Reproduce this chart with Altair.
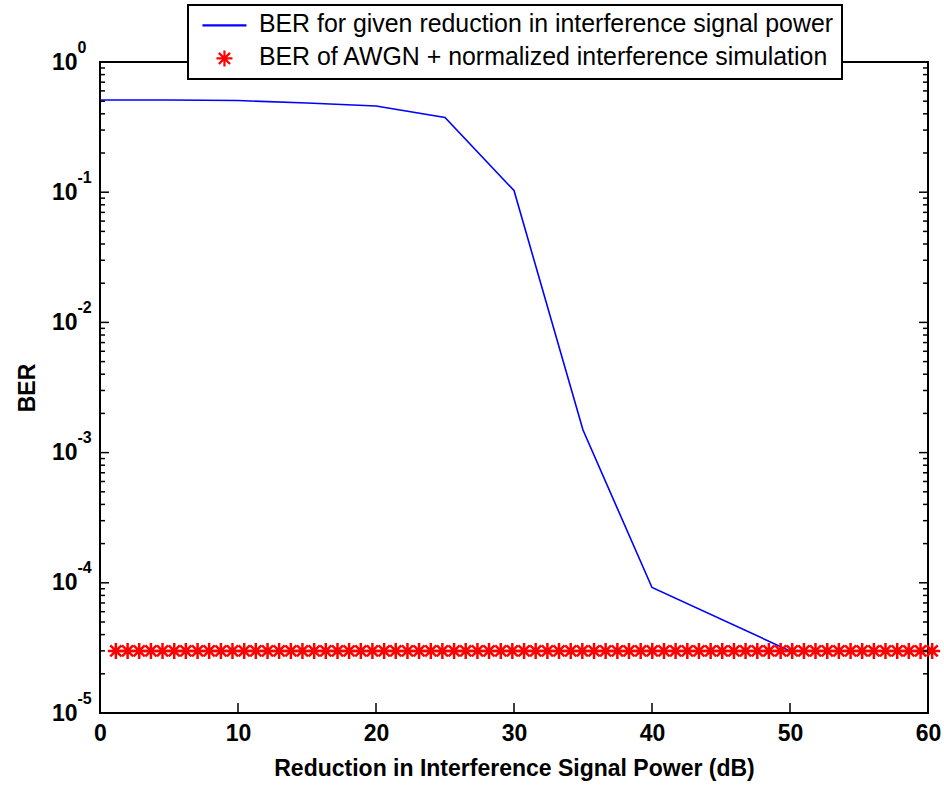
import altair as alt
import pandas as pd

# ---------------- data ----------------
series_names = [
    "BER for given reduction in interference signal power",
    "BER of AWGN + normalized interference simulation",
]
reduction_db = [0, 5, 10, 15, 20, 25, 30, 35, 40, 50, 55, 60]
ber_reduction = [0.51, 0.51, 0.506, 0.484, 0.459, 0.375, 0.103, 1.49e-3, 9.2e-5, 3.0e-5, 3.0e-5, 3.0e-5]

sim_db = [1.15, 2.00, 2.84, 3.69, 4.53, 5.38, 6.22, 7.07, 7.91, 8.76,
          9.60, 10.45, 11.29, 12.14, 12.98, 13.83, 14.67, 15.52, 16.36, 17.21,
          18.05, 18.90, 19.74, 20.59, 21.43, 22.28, 23.12, 23.97, 24.81, 25.66,
          26.50, 27.35, 28.19, 29.04, 29.88, 30.73, 31.57, 32.42, 33.26, 34.11,
          34.95, 35.80, 36.64, 37.49, 38.33, 39.18, 40.02, 40.87, 41.71, 42.56,
          43.40, 44.25, 45.09, 45.94, 46.78, 47.63, 48.47, 49.32, 50.16, 51.01,
          51.85, 52.70, 53.54, 54.39, 55.23, 56.08, 56.92, 57.77, 58.61, 59.46,
          60.30]
ber_sim = [3.0e-5] * len(sim_db)

x_ticks = [0, 10, 20, 30, 40, 50, 60]
y_major = [1e-5, 1e-4, 1e-3, 1e-2, 1e-1, 1]
y_minor = [k * d for d in [1e-5, 1e-4, 1e-3, 1e-2, 1e-1] for k in range(2, 10)]

# ---------------- sizes / styling ----------------
W, H = 828, 651
FONT = "Liberation Sans"
LINE_PATH = "M-2.75,0L2.75,0"
STAR_PATH = "M-1,0L1,0M0,-1L0,1M-0.7,-0.7L0.7,0.7M-0.7,0.7L0.7,-0.7"

X0, X1 = 0, 60
DECADES = 5
def dx(px):           # pixel length -> dB along x
    return (X1 - X0) * px / W
def fy(px):           # pixel length -> factor along log y
    return 10 ** (DECADES * px / H)

df_line = pd.DataFrame({"db": reduction_db, "ber": ber_reduction, "series": series_names[0]})
df_sim = pd.DataFrame({"db": sim_db, "ber": ber_sim, "series": series_names[1]})

# inward tick segments (MATLAB box style), two end points per tick
segs = []
for v in x_ticks:
    segs.append(((v, 1e-5), (v, 1e-5 * fy(10))))
    segs.append(((v, 1.0), (v, 1.0 / fy(10))))
for v in y_major:
    segs.append(((X0, v), (X0 + dx(9), v)))
    segs.append(((X1, v), (X1 - dx(9), v)))
for v in y_minor:
    segs.append(((X0, v), (X0 + dx(5), v)))
    segs.append(((X1, v), (X1 - dx(5), v)))
tick_rows = []
for i, (a, b) in enumerate(segs):
    tick_rows.append({"tid": i, "k": 0, "tx": a[0], "ty": a[1]})
    tick_rows.append({"tid": i, "k": 1, "tx": b[0], "ty": b[1]})
df_ticks = pd.DataFrame(tick_rows)
df_ymaj = pd.DataFrame({"ev": y_major})

xs = alt.Scale(domain=[X0, X1], nice=False, zero=False)
ys = alt.Scale(type="log", domain=[1e-5, 1], nice=False)
cs = alt.Scale(domain=series_names, range=["#0000ff", "#ff0000"])
ss = alt.Scale(domain=series_names, range=[LINE_PATH, STAR_PATH])

legend = alt.Legend(
    orient="none", legendX=88, legendY=-57, title=None,
    fillColor="white", strokeColor="black", padding=8,
    labelFont=FONT, labelFontSize=24.9, labelColor="black", labelLimit=1000,
    symbolSize=256, symbolStrokeWidth=2.2, symbolOffset=16, labelOffset=22,
    rowPadding=7,
)

# layer: tick segments drawn as short black lines
ticks = alt.Chart(df_ticks).mark_line(strokeWidth=1.5).encode(
    x=alt.X("tx:Q", scale=xs, axis=None),
    y=alt.Y("ty:Q", scale=ys, axis=None),
    detail="tid:N",
    order="k:Q",
    color=alt.value("black"),
)

# layer: blue line, with the labelled axes
line = alt.Chart(df_line).mark_line(strokeWidth=1.6).encode(
    x=alt.X("db:Q", scale=xs, axis=alt.Axis(
        orient="bottom", values=x_ticks, tickSize=0, domain=False, grid=False,
        labelFont=FONT, labelFontSize=23, labelFontWeight="bold", labelColor="black",
        labelPadding=9, labelFlush=False, format="d",
        title="Reduction in Interference Signal Power (dB)",
        titleFont=FONT, titleFontSize=23, titleFontWeight="bold", titleColor="black",
        titleY=62, titleBaseline="alphabetic")),
    y=alt.Y("ber:Q", scale=ys, axis=alt.Axis(
        orient="left", values=y_major, tickSize=0, domain=False, grid=False,
        labelExpr="'10'", labelFont=FONT, labelFontSize=23, labelFontWeight="bold",
        labelColor="black", labelPadding=23, labelBaseline="middle",
        title="BER", titleFont=FONT, titleFontSize=23, titleFontWeight="bold",
        titleColor="black", titleX=-66, titleY=H / 2, titleAngle=270,
        titleAlign="center", titleBaseline="alphabetic")),
    color=alt.Color("series:N", scale=cs, legend=legend),
)

# layer: red asterisks
stars = alt.Chart(df_sim).mark_point(filled=False, strokeWidth=2.5, size=256, opacity=1).encode(
    x=alt.X("db:Q", scale=xs, axis=None),
    y=alt.Y("ber:Q", scale=ys, axis=None),
    color=alt.Color("series:N", scale=cs, legend=legend),
    shape=alt.Shape("series:N", scale=ss, legend=legend),
)

# layer: exponents of the y tick labels
expo = alt.Chart(df_ymaj).mark_point(opacity=0).encode(
    y=alt.Y("ev:Q", scale=ys, axis=alt.Axis(
        orient="left", values=y_major, tickSize=0, domain=False, grid=False,
        labelExpr="'' + round(log(datum.value) / LN10)",
        labelFont=FONT, labelFontSize=16, labelFontWeight="bold", labelColor="black",
        labelAlign="left", labelBaseline="middle", labelPadding=23, labelOffset=-15,
        title=None)),
)

chart = alt.layer(
    line, stars, ticks, expo
).resolve_axis(
    x="independent", y="independent"
).properties(
    width=W, height=H,
    autosize=alt.AutoSizeParams(type="none"),
    padding={"left": 100, "top": 62, "right": 16, "bottom": 75},
    background="white",
).configure_view(
    stroke="black", strokeWidth=2
).configure_legend(
    strokeWidth=2
)

chart.save("out.html", embed_options={"renderer": "svg", "actions": False})
